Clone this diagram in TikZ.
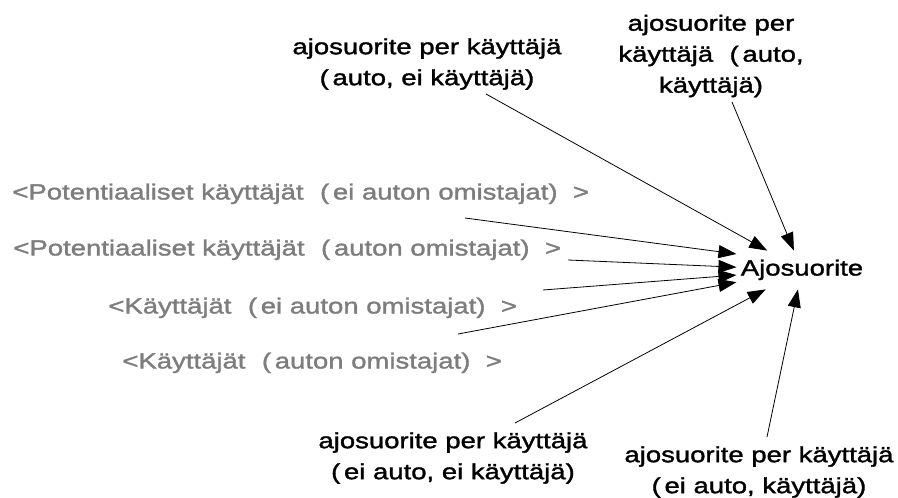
\documentclass[tikz,border=0pt]{standalone}
\usepackage{fontspec}
\setmainfont[FakeStretch=1.25,FakeBold=1.5]{Liberation Sans}
\usetikzlibrary{arrows.meta}
\definecolor{shadowgray}{RGB}{125,125,125}
\newcommand{\lpar}{\hspace{0.75em}(\,}
\newcommand{\rpar}{)\hspace{0.7em}}

\begin{document}
\begin{tikzpicture}[->,>={Triangle[length=18pt,width=13pt]},x=1pt,y=-1pt,line width=0.8pt,font=\fontsize{22}{31}\selectfont]
\tikzstyle{shadow}=[anchor=west,inner sep=0pt,text=shadowgray,text height=16pt,text depth=5pt]
\tikzstyle{lbl}=[align=center,inner sep=0pt]
\useasboundingbox (0,0) rectangle (898,498);
\node[inner xsep=4pt,inner ysep=0pt,minimum height=38pt,text height=16pt,text depth=5pt] (ajo) at (802,270) {Ajosuorite};
\node[shadow] (potEi)	at (12,194)		{<Potentiaaliset käyttäjät\lpar ei auton omistajat\rpar >};
\node[shadow] (pot)		at (13,250)		{<Potentiaaliset käyttäjät\lpar auton omistajat\rpar >};
\node[shadow] (kayEi)	at (108,308)	{<Käyttäjät\lpar ei auton omistajat\rpar >};
\node[shadow] (kay)		at (122,363)	{<Käyttäjät\lpar auton omistajat\rpar >};
\node[lbl] (perAuto)	at (427,64)		{ajosuorite per käyttäjä\\(\,auto, ei käyttäjä)};
\node[lbl] (perAutoK)	at (711,56)		{ajosuorite per\\käyttäjä\lpar auto,\\käyttäjä)};
\node[lbl] (perEi)		at (453,458)	{ajosuorite per käyttäjä\\(\,ei auto, ei käyttäjä)};
\node[lbl] (perEiK)		at (759,472)	{ajosuorite per käyttäjä\\(\,ei auto, käyttäjä)};
% arrow tails
\coordinate (tPotEi)	at (465,218);
\coordinate (tPot)		at (568,260);
\coordinate (tKayEi)	at (543,290);
\coordinate (tKay)		at (458,334);
\coordinate (tPerAuto)	at (486,94);
\coordinate (tPerAutoK)	at (732,102);
\coordinate (tPerEi)	at (515,423);
\coordinate (tPerEiK)	at (767,437);
\path(tPotEi)		edge	([yshift=16pt]ajo.west)
	 (tPot)			edge	(ajo)
	 (tKayEi)		edge	(ajo)
	 (tKay)			edge	(ajo)
	 (tPerAuto)		edge	(ajo)
	 (tPerAutoK)	edge	(ajo)
	 (tPerEi)		edge	(ajo)
	 (tPerEiK)		edge	(ajo);
\end{tikzpicture}
\end{document}
